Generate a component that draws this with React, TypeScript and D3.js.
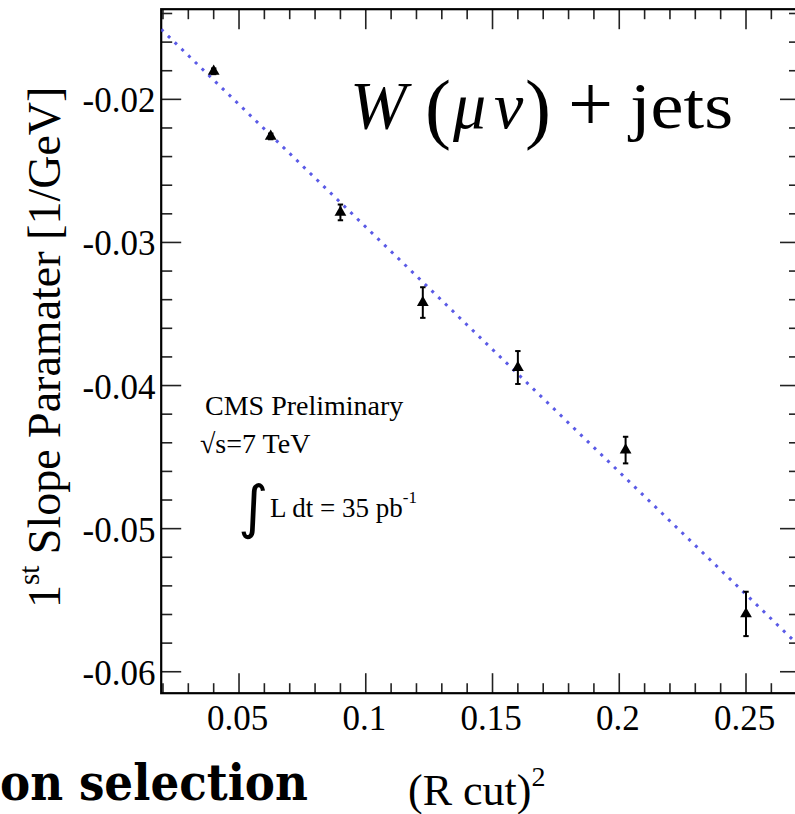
import React from "react";
import * as d3 from "d3";

// Squared cone size and the fitted first slope parameter with its uncertainty
const rCutSquared = [0.04, 0.0625, 0.09, 0.1225, 0.16, 0.2025, 0.25];
const slopeValues = [-0.01804, -0.02259, -0.0279, -0.0342, -0.03874, -0.04451, -0.05596];
const slopeErrors = [0.0002, 0.0002, 0.00055, 0.00107, 0.00115, 0.00093, 0.00155];

// Linear fit: slope = fitIntercept + fitSlope * (R cut)^2
const fitIntercept = -0.0118;
const fitSlope = -0.1712;

const xTickValues = [0.05, 0.1, 0.15, 0.2, 0.25];
const xTickLabels = ["0.05", "0.1", "0.15", "0.2", "0.25"];
const yTickValues = [-0.02, -0.03, -0.04, -0.05, -0.06];
const yTickLabels = ["-0.02", "-0.03", "-0.04", "-0.05", "-0.06"];

const xDomain: [number, number] = [0.0193, 0.2713];
const yDomain: [number, number] = [-0.0615, -0.0137];

const W = 795;
const H = 814;
const frame = { left: 161.2, right: 800, top: 9.2, bottom: 693.2 };

const serifStyle = { fontFamily: "Liberation Serif" };

export default function App() {
  const x = d3.scaleLinear().domain(xDomain).range([frame.left, frame.right]);
  const y = d3.scaleLinear().domain(yDomain).range([frame.bottom, frame.top]);

  const xMinor = d3.range(0.02, 0.2713, 0.01).map((v) => +v.toFixed(3));
  const yMinor = d3.range(-0.06, -0.0137, 0.002).map((v) => +v.toFixed(4));

  const fitLine = d3
    .line<number>()
    .x((d) => x(d))
    .y((d) => y(fitIntercept + fitSlope * d))(xDomain);

  const tri = d3.symbol(d3.symbolTriangle, 60)();

  const tickStroke = "#222";

  return (
    <svg
      width={W}
      height={H}
      style={{ position: "absolute", left: 0, top: 0, background: "#fff" }}
    >
      <rect x={0} y={0} width={W} height={H} fill="#fff" />
      <defs>
        <clipPath id="plotArea">
          <rect
            x={frame.left}
            y={frame.top}
            width={frame.right - frame.left}
            height={frame.bottom - frame.top}
          />
        </clipPath>
      </defs>

      {/* minor and major ticks on all four sides */}
      <g stroke={tickStroke} strokeWidth={1.6}>
        {xMinor.map((v) => {
          const major = xTickValues.some((t) => Math.abs(t - v) < 1e-6);
          const len = major ? 20 : 10;
          return (
            <g key={"xm" + v}>
              <line x1={x(v)} x2={x(v)} y1={frame.bottom} y2={frame.bottom - len} />
              <line x1={x(v)} x2={x(v)} y1={frame.top} y2={frame.top + len} />
            </g>
          );
        })}
        {yMinor.map((v) => {
          const major = yTickValues.some((t) => Math.abs(t - v) < 1e-6);
          const len = major ? 20 : 11;
          return (
            <g key={"ym" + v}>
              <line x1={frame.left} x2={frame.left + len} y1={y(v)} y2={y(v)} />
              <line x1={frame.right} x2={frame.right - len} y1={y(v)} y2={y(v)} />
            </g>
          );
        })}
      </g>

      {/* frame */}
      <rect
        x={frame.left}
        y={frame.top}
        width={frame.right - frame.left}
        height={frame.bottom - frame.top}
        fill="none"
        stroke="#000"
        strokeWidth={2.2}
      />

      {/* tick labels */}
      <g fontSize={35} fill="#000" style={serifStyle}>
        {xTickValues.map((v, i) => (
          <text key={"xl" + v} x={x(v) - 1.5} y={730} textAnchor="middle" style={serifStyle}>
            {xTickLabels[i]}
          </text>
        ))}
        {yTickValues.map((v, i) => (
          <text key={"yl" + v} x={155.5} y={y(v) + 13} textAnchor="end" style={serifStyle}>
            {yTickLabels[i]}
          </text>
        ))}
      </g>

      {/* fit line */}
      <g clipPath="url(#plotArea)">
        <path
          d={fitLine ?? ""}
          fill="none"
          stroke="#5a5ae6"
          strokeWidth={3}
          strokeDasharray="3 6.4"
        />
      </g>

      {/* measurements */}
      <g>
        {rCutSquared.map((xv, i) => {
          const cx = x(xv);
          const cy = y(slopeValues[i]);
          const top = y(slopeValues[i] + slopeErrors[i]);
          const bot = y(slopeValues[i] - slopeErrors[i]);
          return (
            <g key={"p" + i}>
              <line x1={cx} x2={cx} y1={top} y2={bot} stroke="#000" strokeWidth={2} />
              <line x1={cx - 2.7} x2={cx + 2.7} y1={top} y2={top} stroke="#000" strokeWidth={2} />
              <line x1={cx - 2.7} x2={cx + 2.7} y1={bot} y2={bot} stroke="#000" strokeWidth={2} />
              <path d={tri ?? ""} transform={`translate(${cx},${cy})`} fill="#000" />
            </g>
          );
        })}
      </g>

      {/* process label */}
      <g fill="#000" style={serifStyle}>
        <text x={350} y={128} fontSize={68} fontStyle="italic" style={serifStyle}>W</text>
        <text x={425} y={134} fontSize={78} style={serifStyle}>(</text>
        <text x={453} y={128} fontSize={66} fontStyle="italic" style={serifStyle}>μ</text>
        <text x={494} y={128} fontSize={66} fontStyle="italic" style={serifStyle}>ν</text>
        <text x={525} y={134} fontSize={78} style={serifStyle}>)</text>
        <text x={568} y={131} fontSize={80} style={serifStyle}>+</text>
        <text
          x={630}
          y={128}
          fontSize={66}
          textLength={103}
          lengthAdjust="spacingAndGlyphs"
          style={serifStyle}
        >
          jets
        </text>
      </g>

      {/* experiment info */}
      <g fill="#000" style={serifStyle}>
        <text x={205} y={415} fontSize={28} style={serifStyle}>CMS Preliminary</text>
        <text x={200} y={452.5} fontSize={28} style={serifStyle}>√s=7 TeV</text>
        <text x={238} y={527} fontSize={58} style={{ fontFamily: "DejaVu Sans" }}>
          ∫
        </text>
        <text x={270} y={516.5} fontSize={27} style={serifStyle}>
          L dt = 35 pb
          <tspan dy={-14} fontSize={17}>-1</tspan>
        </text>
      </g>

      {/* axis titles */}
      <text x={408} y={805} fontSize={44} fill="#000" style={serifStyle}>
        (R cut)
        <tspan dy={-19} fontSize={28}>2</tspan>
      </text>
      <text
        transform="translate(60,608) rotate(-90)"
        fontSize={46}
        fill="#000"
        style={serifStyle}
      >
        1
        <tspan dy={-21} fontSize={29}>st</tspan>
        <tspan dy={21}> Slope Paramater [1/GeV]</tspan>
      </text>

      {/* slide caption fragment */}
      <text
        x={0}
        y={800}
        fontWeight="bold"
        fontSize={50}
        textLength={308}
        lengthAdjust="spacingAndGlyphs"
        fill="#000"
        style={{ fontFamily: "DejaVu Serif" }}
      >
        on selection
      </text>
    </svg>
  );
}
